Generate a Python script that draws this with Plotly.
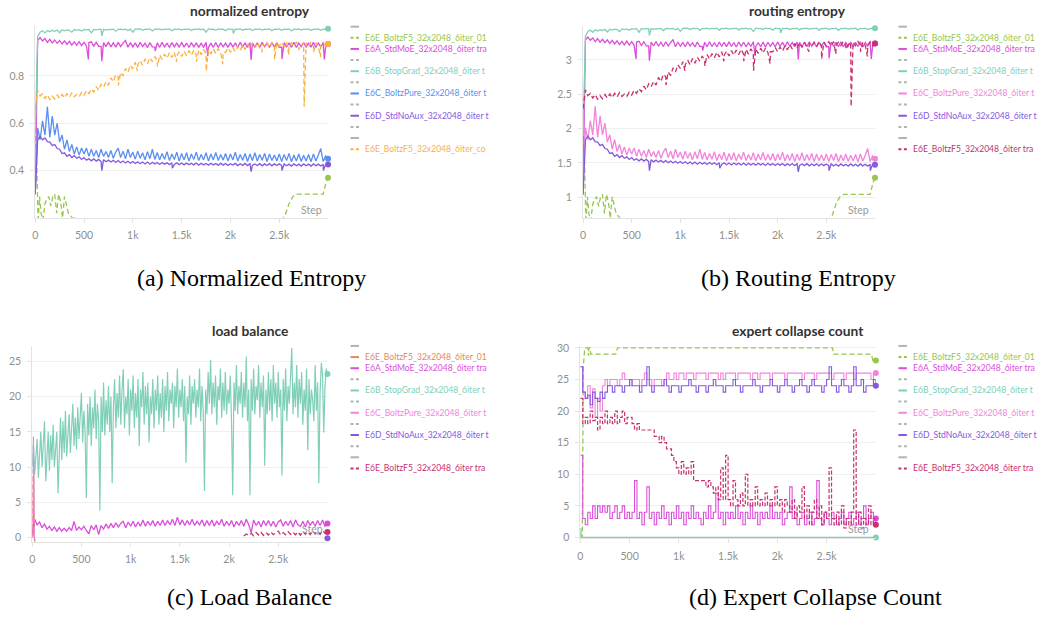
import math
import numpy as np
import plotly.graph_objects as go

W, H = 1039, 617

# ------------------------------------------------------------------ data
STEP_TICKS = [0, 500, 1000, 1500, 2000, 2500]
STEP_TICK_LABELS = ["0", "500", "1k", "1.5k", "2k", "2.5k"]
LAST_STEP = 3000

# (a) normalized entropy -- regular samples every 25 steps (0..3000) plus isolated dips
NE_TEAL = [0.55,
    0.965, 0.985, 0.991, 0.982, 0.992, 0.987, 0.993, 0.989, 0.994, 0.983,
    0.995, 0.991, 0.995, 0.993, 0.985, 0.996, 0.993, 0.996, 0.990, 0.997,
    0.995, 0.997, 0.982, 0.997, 0.995, 0.997, 0.997, 0.997, 0.994, 0.997,
    0.996, 0.998, 0.989, 0.997, 0.998, 0.996, 0.998, 0.992, 0.998, 0.985,
    0.998, 0.997, 0.999, 0.993, 0.998, 0.997, 0.999, 0.990, 0.998, 0.997,
    0.999, 0.995, 0.998, 0.997, 0.999, 0.991, 0.998, 0.997, 0.999, 0.994,
    0.998, 0.997, 0.999, 0.992, 0.998, 0.997, 0.999, 0.995, 0.998, 0.985,
    0.999, 0.997, 0.998, 0.993, 0.999, 0.997, 0.998, 0.991, 0.999, 0.997,
    0.998, 0.998, 0.997, 0.999, 0.993, 0.998, 0.997, 0.999, 0.992, 0.998,
    0.997, 0.999, 0.994, 0.998, 0.997, 0.999, 0.991, 0.998, 0.997, 0.999,
    0.993, 0.998, 0.997, 0.999, 0.990, 0.998, 0.997, 0.999, 0.994, 0.998,
    0.997, 0.999, 0.992, 0.998, 0.997, 0.999, 0.993, 0.998, 0.997, 0.999]
NE_TEAL_DIP_STEPS = [682, 2030]
NE_TEAL_DIPS = [0.969, 0.979]

NE_MAGENTA = [0.30,
    0.950, 0.962, 0.948, 0.958, 0.942, 0.955, 0.940, 0.952, 0.938, 0.950,
    0.935, 0.948, 0.933, 0.946, 0.930, 0.944, 0.929, 0.945, 0.928, 0.942,
    0.927, 0.941, 0.944, 0.926, 0.942, 0.925, 0.925, 0.941, 0.924, 0.943,
    0.923, 0.940, 0.922, 0.942, 0.924, 0.939, 0.950, 0.921, 0.941, 0.923,
    0.940, 0.921, 0.942, 0.924, 0.938, 0.920, 0.941, 0.923, 0.922, 0.940,
    0.921, 0.942, 0.922, 0.939, 0.920, 0.941, 0.923, 0.940, 0.921, 0.942,
    0.922, 0.939, 0.920, 0.941, 0.923, 0.940, 0.921, 0.938, 0.922, 0.942,
    0.921, 0.939, 0.921, 0.941, 0.920, 0.940, 0.923, 0.939, 0.921, 0.941,
    0.922, 0.940, 0.920, 0.942, 0.923, 0.939, 0.921, 0.941, 0.940, 0.922,
    0.940, 0.921, 0.942, 0.923, 0.939, 0.920, 0.941, 0.922, 0.940, 0.921,
    0.922, 0.941, 0.922, 0.940, 0.921, 0.942, 0.920, 0.939, 0.923, 0.941,
    0.921, 0.940, 0.922, 0.942, 0.920, 0.939, 0.923, 0.941, 0.922, 0.935]
NE_MAGENTA_DIP_STEPS = [545, 682, 1230, 1768, 2212, 2528, 2962]
NE_MAGENTA_DIPS = [0.870, 0.862, 0.905, 0.885, 0.868, 0.872, 0.870]

NE_BLUE = [0.30,
    0.58, 0.53, 0.61, 0.55, 0.67, 0.54, 0.63, 0.55, 0.60, 0.52,
    0.55, 0.49, 0.53, 0.48, 0.51, 0.47, 0.50, 0.465, 0.495, 0.47,
    0.495, 0.46, 0.49, 0.46, 0.485, 0.455, 0.49, 0.46, 0.48, 0.455,
    0.485, 0.452, 0.478, 0.495, 0.455, 0.482, 0.45, 0.49, 0.455, 0.478,
    0.448, 0.482, 0.452, 0.475, 0.445, 0.48, 0.45, 0.49, 0.447, 0.476,
    0.445, 0.472, 0.448, 0.48, 0.442, 0.47, 0.447, 0.478, 0.44, 0.472,
    0.445, 0.475, 0.44, 0.47, 0.447, 0.478, 0.442, 0.468, 0.445, 0.475,
    0.44, 0.47, 0.445, 0.476, 0.442, 0.468, 0.444, 0.472, 0.44, 0.47,
    0.445, 0.478, 0.44, 0.468, 0.443, 0.472, 0.438, 0.47, 0.442, 0.475,
    0.44, 0.468, 0.443, 0.472, 0.438, 0.47, 0.442, 0.466, 0.44, 0.47,
    0.438, 0.468, 0.442, 0.472, 0.437, 0.466, 0.44, 0.47, 0.438, 0.465,
    0.44, 0.468, 0.437, 0.47, 0.44, 0.465, 0.493, 0.438, 0.462, 0.45]

NE_PURPLE = [0.30,
    0.53, 0.545, 0.53, 0.538, 0.522, 0.52, 0.505, 0.51, 0.493, 0.49,
    0.472, 0.475, 0.46, 0.467, 0.455, 0.463, 0.452, 0.458, 0.447, 0.455,
    0.444, 0.45, 0.441, 0.449, 0.44, 0.447, 0.438, 0.446, 0.437, 0.444,
    0.436, 0.443, 0.434, 0.442, 0.433, 0.44, 0.432, 0.439, 0.431, 0.438,
    0.43, 0.437, 0.429, 0.436, 0.428, 0.436, 0.427, 0.435, 0.428, 0.434,
    0.426, 0.434, 0.427, 0.433, 0.425, 0.433, 0.426, 0.433, 0.425, 0.432,
    0.424, 0.432, 0.425, 0.431, 0.424, 0.432, 0.423, 0.431, 0.424, 0.43,
    0.423, 0.431, 0.424, 0.43, 0.422, 0.431, 0.423, 0.43, 0.422, 0.429,
    0.423, 0.43, 0.421, 0.429, 0.422, 0.43, 0.421, 0.429, 0.422, 0.428,
    0.421, 0.429, 0.42, 0.428, 0.421, 0.429, 0.42, 0.428, 0.421, 0.428,
    0.421, 0.428, 0.42, 0.427, 0.419, 0.428, 0.42, 0.427, 0.419, 0.428,
    0.42, 0.427, 0.419, 0.428, 0.42, 0.427, 0.419, 0.427, 0.426, 0.425]
NE_PURPLE_DIP_STEPS = [682, 1405, 2212, 2528, 2952]
NE_PURPLE_DIPS = [0.40, 0.41, 0.395, 0.40, 0.40]

NE_ORANGE = [0.66,
    0.74, 0.715, 0.725, 0.705, 0.72, 0.70, 0.715, 0.702, 0.72, 0.705,
    0.722, 0.707, 0.725, 0.71, 0.728, 0.712, 0.722, 0.712, 0.73, 0.718,
    0.738, 0.725, 0.745, 0.732, 0.755, 0.74, 0.765, 0.752, 0.775, 0.76,
    0.792, 0.775, 0.805, 0.795, 0.815, 0.80, 0.832, 0.815, 0.845, 0.83,
    0.858, 0.845, 0.865, 0.845, 0.872, 0.852, 0.877, 0.86, 0.882, 0.865,
    0.888, 0.87, 0.892, 0.875, 0.898, 0.878, 0.90, 0.884, 0.902, 0.882,
    0.905, 0.886, 0.907, 0.888, 0.91, 0.89, 0.91, 0.89, 0.912, 0.895,
    0.912, 0.893, 0.915, 0.895, 0.916, 0.897, 0.90, 0.90, 0.918, 0.90,
    0.92, 0.903, 0.925, 0.908, 0.93, 0.912, 0.935, 0.915, 0.938, 0.918,
    0.94, 0.92, 0.935, 0.925, 0.94, 0.922, 0.942, 0.925, 0.94, 0.925,
    0.942, 0.925, 0.943, 0.928, 0.94, 0.926, 0.943, 0.928, 0.93, 0.94,
    0.94, 0.925, 0.943, 0.928, 0.94, 0.927, 0.928, 0.942, 0.925, 0.935]
NE_ORANGE_DIP_STEPS = [852, 1047, 1252, 1448, 1652, 1752, 1922, 2322, 2452, 2598,
                       2702, 2755, 2852, 2922]
NE_ORANGE_DIPS = [0.76, 0.82, 0.84, 0.86, 0.86, 0.82, 0.85, 0.90, 0.87, 0.89,
                  0.91, 0.67, 0.90, 0.88]

NE_GREEN_STEPS = [0, 15, 30, 45, 60, 80, 100, 120, 140, 160, 180, 200, 220, 240, 260,
                  280, 300, 320, 340, 360, 380, 420, 460, 520, 2500, 2540, 2560, 2600,
                  2640, 2680, 2950, 2980, 3000]
NE_GREEN = [0.58, 0.45, 0.18, 0.29, 0.22, 0.19, 0.26, 0.28, 0.29, 0.25, 0.29, 0.30, 0.22,
            0.30, 0.27, 0.20, 0.29, 0.25, 0.22, 0.21, 0.20, 0.20, 0.19, 0.15, 0.15, 0.20,
            0.21, 0.26, 0.29, 0.30, 0.30, 0.35, 0.37]

# (b) routing entropy: same runs, in nats -> H = normalized * ln(32 experts)
N_EXPERTS = 32

# (c) load balance -- teal sampled every 12.5 steps, the others every 25 steps
LB_TEAL = [10.0,
    13.5, 9.0, 12.0, 14.0, 8.5, 11.5, 15.0, 10.0, 13.0, 16.5, 8.0, 12.5,
    15.0, 9.5, 14.5, 11.0, 16.0, 10.0, 13.5, 15.0, 6.3, 12.0, 17.0, 11.0,
    16.5, 12.0, 18.0, 11.5, 15.5, 17.5, 12.0, 16.0, 19.0, 13.0, 17.0, 12.5,
    18.5, 14.0, 17.0, 20.5, 13.5, 18.0, 15.0, 5.6, 19.0, 14.5, 20.0, 13.0,
    18.5, 15.5, 21.0, 14.0, 19.0, 16.5, 3.8, 20.0, 15.0, 22.0, 14.5, 19.5,
    16.0, 21.5, 15.0, 20.0, 7.7, 18.5, 22.5, 15.5, 20.5, 17.0, 23.0, 16.0,
    21.0, 23.9, 15.5, 20.0, 17.5, 22.5, 14.5, 21.0, 18.0, 23.0, 15.5, 20.5,
    17.0, 22.5, 13.0, 21.0, 18.5, 23.5, 16.0, 21.5, 17.5, 22.0, 13.5, 20.0,
    17.5, 22.5, 15.5, 21.0, 18.0, 23.0, 16.0, 20.5, 17.0, 22.5, 15.0, 21.5,
    18.0, 23.5, 16.5, 21.0, 19.0, 22.0, 15.5, 21.5, 18.5, 24.0, 17.0, 21.0,
    18.5, 22.5, 16.5, 21.5, 10.6, 20.0, 17.5, 23.0, 16.0, 21.5, 19.0, 22.5,
    17.0, 21.0, 18.5, 24.0, 16.5, 21.5, 18.0, 6.6, 21.0, 17.5, 23.5, 19.0,
    25.2, 17.5, 22.0, 18.5, 23.0, 16.0, 21.5, 19.5, 24.0, 17.0, 22.0, 18.0,
    23.5, 17.5, 21.0, 19.0, 23.0, 16.5, 6.0, 22.0, 18.0, 24.5, 17.5, 21.5,
    19.0, 23.5, 17.0, 22.0, 18.5, 25.7, 16.5, 21.0, 6.0, 22.5, 18.0, 24.0,
    17.5, 21.5, 19.5, 24.5, 17.0, 22.0, 18.5, 23.0, 10.2, 21.0, 17.5, 23.5,
    18.0, 22.5, 16.5, 24.5, 19.0, 22.0, 17.0, 23.5, 18.5, 21.0, 8.8, 22.5,
    18.0, 24.0, 16.5, 21.5, 19.0, 23.0, 26.9, 17.5, 22.0, 18.5, 24.5, 17.0,
    22.5, 19.0, 23.5, 16.0, 21.0, 18.0, 24.0, 12.4, 22.5, 17.5, 21.0, 19.5,
    16.5, 24.5, 18.0, 22.0, 7.7, 20.5, 24.8, 23.0, 14.9, 21.5, 24.0, 23.2]
LB_MAGENTA = [0.2,
    2.6, 1.8, 2.2, 1.4, 1.9, 1.2, 1.6, 1.0, 1.5, 0.9,
    1.4, 0.9, 1.3, 0.9, 1.4, 1.0, 2.3, 1.0, 1.5, 1.1,
    1.6, 1.0, 0.5, 1.7, 1.1, 1.8, 0.4, 1.7, 1.2, 1.9,
    1.3, 2.0, 1.4, 2.1, 1.5, 2.0, 2.3, 1.4, 2.2, 1.6,
    2.3, 1.5, 2.2, 1.6, 2.5, 1.6, 2.3, 1.7, 2.4, 1.6,
    2.3, 1.7, 2.5, 1.7, 2.4, 1.8, 2.6, 1.7, 2.9, 1.8,
    2.5, 1.7, 2.4, 1.8, 2.6, 1.7, 2.3, 1.8, 2.5, 1.6,
    2.4, 1.7, 2.5, 1.6, 2.3, 1.8, 2.6, 1.6, 2.3, 1.7,
    2.4, 1.5, 2.3, 1.7, 2.4, 1.6, 2.6, 1.8, 0.7, 2.5,
    1.7, 2.3, 1.5, 2.4, 1.7, 2.4, 1.6, 2.3, 1.5, 2.2,
    2.5, 1.6, 2.3, 1.7, 2.4, 1.5, 2.5, 1.8, 1.6, 2.3,
    1.5, 2.4, 1.7, 2.3, 1.6, 2.4, 1.7, 2.5, 1.6, 2.0]
LB_BROWN_STEPS = [5, 15, 20, 30]
LB_BROWN = [0.0, 11.2, 0.5, -1.0]
LB_CRIMSON_START_STEPS = [0, 12, 20, 25]
LB_CRIMSON_START = [0.0, 14.4, 0.3, -1.0]
LB_CRIMSON_LATE_FROM = 2150
LB_CRIMSON_LATE = [0.2, 0.5, 0.3, 0.6, 0.25, 0.7, 0.35, 0.75, 0.3, 0.7, 0.35, 0.8,
                   0.4, 0.65, 0.9, 0.35, 0.7, 0.4, 0.85, 0.45, 0.75, 0.4, 0.8, 0.35,
                   0.9, 0.45, 0.8, 0.4, 0.95, 0.5, 0.85, 0.45, 1.0, 0.6, 0.8]
LB_PURPLE_STEPS = [3000]
LB_PURPLE = [-0.1]

# (d) expert collapse count -- sampled every 25 steps (0..3000)
EC_PINK = [27,
    23, 22, 24, 20.5, 23.5, 19, 22, 20, 24, 25,
    24, 25, 25, 25, 24, 25, 26, 25, 25, 24,
    25, 25, 25, 24, 25, 26, 25, 25, 24, 25,
    25, 25, 24, 25, 26, 25, 25, 26, 25, 26,
    26, 25, 26, 26, 26, 25, 26, 26, 26, 26,
    25, 26, 26, 26, 26, 25, 26, 25, 26, 26,
    26, 26, 25, 26, 26, 26, 26, 26, 25, 26,
    26, 25, 26, 26, 26, 26, 25, 26, 26, 26,
    26, 26, 25, 26, 26, 26, 26, 26, 26, 25,
    26, 26, 26, 26, 25, 26, 26, 26, 26, 26,
    26, 25, 26, 26, 26, 26, 25, 26, 26, 26,
    25, 26, 26, 26, 26, 26, 26, 25, 26, 26]
EC_PURPLE = [27,
    23, 22, 22.5, 21, 23, 22, 21.5, 23, 22, 23,
    24, 24, 23, 24, 24, 24, 23, 24, 24, 25,
    24, 24, 24, 23, 24, 24, 27, 24, 23, 24,
    24, 24, 24, 25, 24, 23, 24, 24, 24, 23,
    24, 24, 24, 25, 24, 24, 23, 24, 24, 24,
    23, 24, 24, 25, 24, 24, 24, 23, 24, 24,
    24, 25, 24, 24, 23, 24, 24, 24, 24, 25,
    24, 24, 23, 24, 24, 24, 25, 24, 24, 23,
    24, 24, 25, 24, 24, 23, 24, 24, 25, 24,
    24, 23, 24, 25, 24, 24, 24, 23, 24, 25,
    27, 24, 24, 23, 24, 25, 24, 24, 23, 24,
    27, 24, 24, 25, 23, 24, 24, 24, 25, 24]
EC_CRIMSON = [22,
    18, 19, 18, 20, 18.5, 19, 17, 19, 18, 20,
    18, 19, 18, 20, 18, 19, 20, 18, 19, 19,
    18, 17, 18, 17, 17, 17, 17, 17, 17, 16,
    16, 15, 16, 15, 14, 14, 13, 12, 11, 10,
    12, 10, 11, 10, 12, 9, 9, 9, 9, 9,
    8, 9, 8, 7, 8, 6, 11, 6, 13, 6,
    5, 9, 6, 5, 7, 5, 10, 5, 6, 5,
    8, 5, 6, 5, 7, 5, 6, 5, 8, 5,
    6, 4, 6, 5, 4, 6, 3, 5, 4, 8,
    3, 5, 2, 4, 6, 3, 5, 2, 4, 3,
    11, 3, 2, 4, 2, 5, 1.5, 3, 2, 4,
    17, 2, 4, 1.5, 3, 2, 5, 2, 3, 2]
EC_MAGENTA = [13,
    3, 2, 4, 3, 5, 3, 5, 4, 5, 4,
    5, 3, 4, 5, 3, 4, 5, 3, 4, 3,
    4, 9, 3, 4, 2, 4, 8, 3, 4, 2,
    4, 3, 5, 3, 4, 2, 4, 3, 5, 3,
    4, 2, 4, 3, 5, 3, 4, 3, 2, 4,
    3, 5, 3, 4, 7, 3, 4, 2, 4, 3,
    4, 3, 5, 3, 4, 2, 4, 3, 5, 3,
    4, 2, 4, 3, 4, 3, 5, 3, 4, 3,
    4, 2, 3, 4, 8, 3, 4, 2, 3, 4,
    2, 3, 4, 2, 3, 9, 3, 2, 4, 3,
    2, 4, 3, 2, 3, 4, 2, 3, 4, 2,
    3, 4, 2, 3, 5, 2, 3, 4, 2, 3]
EC_GREEN_STEPS = [0, 20, 30, 45, 78, 80, 84, 86, 100, 105, 110, 360, 365, 380,
                  2560, 2565, 2570, 2955, 2970, 3000]
EC_GREEN = [0, 0, 27, 30, 30, 28.7, 28.7, 30, 30, 29, 29, 29, 29.5, 30,
            30, 29.5, 29, 29, 28, 28]
EC_TEAL_STEPS = [0, 5, 10, 3000]
EC_TEAL = [0, 1.5, 0, 0]

# legend labels (as shown, clipped by the panel)
LBL_E6E_01 = "E6E_BoltzF5_32x2048_6iter_01"
LBL_E6A = "E6A_StdMoE_32x2048_6iter tra"
LBL_E6B = "E6B_StopGrad_32x2048_6iter t"
LBL_E6C = "E6C_BoltzPure_32x2048_6iter t"
LBL_E6D = "E6D_StdNoAux_32x2048_6iter t"
LBL_E6E_CO = "E6E_BoltzF5_32x2048_6iter_co"
LBL_E6E_TRA = "E6E_BoltzF5_32x2048_6iter tra"

TITLES = ["normalized entropy", "routing entropy", "load balance", "expert collapse count"]
CAPTIONS = ["(a) Normalized Entropy", "(b) Routing Entropy", "(c) Load Balance",
            "(d) Expert Collapse Count"]

# ------------------------------------------------------------------ styles
GREEN = "#97c74c"
MAGENTA = "#db4edb"
TEAL = "#80cfb9"
BLUE = "#5a8ef0"
PURPLE = "#8658de"
ORANGE = "#fbb13f"
PINK = "#f383dc"
CRIMSON = "#c8306f"
BROWN = "#df8a5c"
GRAY = "#b3b3b3"

FONT = "Lato"
TICK_COLOR = "#8f8f8f"
DASH = "5px,3px"


def steps_for(vals, start=0, end=LAST_STEP):
    return list(np.linspace(start, end, len(vals)))


def with_dips(vals, dip_steps, dip_vals):
    pts = sorted(zip(steps_for(vals) + list(dip_steps), list(vals) + list(dip_vals)))
    return [p[0] for p in pts], [p[1] for p in pts]


def px_x(x):
    return x / W


def px_y(y):
    return 1 - y / H


fig = go.Figure()

PANELS = [
    dict(box=(32.3, 326.0, 22, 217), yr=[0.2, 1.0125], yt=[0.4, 0.6, 0.8], ytt=["0.4", "0.6", "0.8"]),
    dict(box=(581.7, 874.5, 22, 217), yr=[0.698, 3.499], yt=[1, 1.5, 2, 2.5, 3], ytt=["1", "1.5", "2", "2.5", "3"]),
    dict(box=(29.3, 325.4, 347, 545.7), yr=[-0.6, 27.2], yt=[0, 5, 10, 15, 20, 25], ytt=["0", "5", "10", "15", "20", "25"]),
    dict(box=(579.0, 875.4, 347, 542), yr=[-0.1, 30.3], yt=[0, 5, 10, 15, 20, 25, 30], ytt=["0", "5", "10", "15", "20", "25", "30"]),
]


def add_series(panel, x, y, color, dash=None, shape="linear", width=1.3, end_dot=True):
    xa = "x" if panel == 1 else f"x{panel}"
    ya = "y" if panel == 1 else f"y{panel}"
    x = list(x)
    y = list(y)
    fig.add_trace(go.Scatter(
        x=x, y=y, mode="lines", xaxis=xa, yaxis=ya, showlegend=False, hoverinfo="skip",
        line=dict(color=color, width=width, dash=dash, shape=shape)))
    if end_dot:
        fig.add_trace(go.Scatter(
            x=[x[-1]], y=[y[-1]], mode="markers", xaxis=xa, yaxis=ya, showlegend=False,
            hoverinfo="skip", marker=dict(color=color, size=6), cliponaxis=False))


teal_x, teal_y = with_dips(NE_TEAL, NE_TEAL_DIP_STEPS, NE_TEAL_DIPS)
mag_x, mag_y = with_dips(NE_MAGENTA, NE_MAGENTA_DIP_STEPS, NE_MAGENTA_DIPS)
pur_x, pur_y = with_dips(NE_PURPLE, NE_PURPLE_DIP_STEPS, NE_PURPLE_DIPS)
ora_x, ora_y = with_dips(NE_ORANGE, NE_ORANGE_DIP_STEPS, NE_ORANGE_DIPS)
blue_x, blue_y = steps_for(NE_BLUE), NE_BLUE

# (a)
add_series(1, NE_GREEN_STEPS, NE_GREEN, GREEN, dash=DASH)
add_series(1, mag_x, mag_y, MAGENTA)
add_series(1, teal_x, teal_y, TEAL)
add_series(1, blue_x, blue_y, BLUE)
add_series(1, pur_x, pur_y, PURPLE)
add_series(1, ora_x, ora_y, ORANGE, dash=DASH)

# (b)
K = math.log(N_EXPERTS)
add_series(2, NE_GREEN_STEPS, [v * K for v in NE_GREEN], GREEN, dash=DASH)
add_series(2, mag_x, [v * K for v in mag_y], MAGENTA)
add_series(2, teal_x, [v * K for v in teal_y], TEAL)
add_series(2, blue_x, [v * K for v in blue_y], PINK)
add_series(2, pur_x, [v * K for v in pur_y], PURPLE)
add_series(2, ora_x, [v * K for v in ora_y], CRIMSON, dash=DASH)

# (c)
add_series(3, LB_BROWN_STEPS, LB_BROWN, BROWN, end_dot=False)
add_series(3, steps_for(LB_MAGENTA), LB_MAGENTA, MAGENTA)
add_series(3, steps_for(LB_TEAL), LB_TEAL, TEAL, width=1.2)
add_series(3, LB_PURPLE_STEPS, LB_PURPLE, PURPLE)
add_series(3, LB_CRIMSON_START_STEPS, LB_CRIMSON_START, PINK, dash=DASH, end_dot=False)
add_series(3, steps_for(LB_CRIMSON_LATE, LB_CRIMSON_LATE_FROM), LB_CRIMSON_LATE, CRIMSON, dash=DASH)

# (d)
add_series(4, EC_GREEN_STEPS, EC_GREEN, GREEN, dash=DASH)
add_series(4, steps_for(EC_MAGENTA), EC_MAGENTA, MAGENTA, shape="hv", width=1.1)
add_series(4, EC_TEAL_STEPS, EC_TEAL, TEAL)
add_series(4, steps_for(EC_PINK), EC_PINK, PINK, shape="hv", width=1.1)
add_series(4, steps_for(EC_PURPLE), EC_PURPLE, PURPLE, shape="hv", width=1.1)
add_series(4, steps_for(EC_CRIMSON), EC_CRIMSON, CRIMSON, dash="4px,2px", shape="hv", width=1.2)

layout = dict(
    width=W, height=H, margin=dict(l=0, r=0, t=0, b=0),
    paper_bgcolor="white", plot_bgcolor="white", showlegend=False,
    font=dict(family=FONT, color=TICK_COLOR),
)
annotations = []
shapes = []
for i, p in enumerate(PANELS, start=1):
    l, r, t, b = p["box"]
    sfx = "" if i == 1 else str(i)
    layout["xaxis" + sfx] = dict(
        domain=[px_x(l), px_x(r)], anchor="y" + sfx, range=[0, LAST_STEP],
        tickvals=STEP_TICKS, ticktext=STEP_TICK_LABELS, showgrid=False, zeroline=False,
        showline=True, linecolor="#e3e3e3", linewidth=1, ticks="outside", ticklen=4,
        tickcolor="#e3e3e3", tickfont=dict(family=FONT, size=10.5, color=TICK_COLOR),
        ticklabelstandoff=4, fixedrange=True)
    layout["yaxis" + sfx] = dict(
        domain=[px_y(b), px_y(t)], anchor="x" + sfx, range=p["yr"],
        tickvals=p["yt"], ticktext=p["ytt"], showgrid=True, gridcolor="#efefef",
        gridwidth=1, zeroline=False, showline=True, linecolor="#e3e3e3", ticks="outside",
        ticklen=4, tickcolor="#e3e3e3", tickfont=dict(family=FONT, size=10.5, color=TICK_COLOR),
        ticklabelstandoff=4, fixedrange=True)

TITLE_POS = [(248, 7), (797, 7), (248, 331), (797, 331)]
CAPTION_POS = [(249, 278), (798, 278), (247, 602), (815, 602)]
STEP_POS = [(309, 209), (858, 209), (310, 533), (858, 533)]
for (tx, ty), title in zip(TITLE_POS, TITLES):
    annotations.append(dict(x=px_x(tx), y=px_y(ty), xref="paper", yref="paper", text=title,
                            showarrow=False, xanchor="center", yanchor="middle",
                            font=dict(family=FONT, size=13.8, color="#333333", weight="bold")))
for (cx, cy), cap in zip(CAPTION_POS, CAPTIONS):
    annotations.append(dict(x=px_x(cx), y=px_y(cy), xref="paper", yref="paper", text=cap,
                            showarrow=False, xanchor="center", yanchor="middle",
                            font=dict(family="Liberation Serif", size=24, color="#000000")))
for sx, sy in STEP_POS:
    annotations.append(dict(x=px_x(sx), y=px_y(sy), xref="paper", yref="paper", text="Step",
                            showarrow=False, xanchor="center", yanchor="middle",
                            font=dict(family=FONT, size=10.5, color="#9a9a9a")))

LEGENDS = [
    [("", GRAY, "solid"), (LBL_E6E_01, GREEN, "dash"), (LBL_E6A, MAGENTA, "solid"),
     ("", GRAY, "dash"), (LBL_E6B, TEAL, "solid"), ("", GRAY, "dash"),
     (LBL_E6C, BLUE, "solid"), ("", GRAY, "dash"), (LBL_E6D, PURPLE, "solid"),
     ("", GRAY, "dash"), ("", GRAY, "solid"), (LBL_E6E_CO, ORANGE, "dash")],
    [("", GRAY, "solid"), (LBL_E6E_01, GREEN, "dash"), (LBL_E6A, MAGENTA, "solid"),
     ("", GRAY, "dash"), (LBL_E6B, TEAL, "solid"), ("", GRAY, "dash"),
     (LBL_E6C, PINK, "solid"), ("", GRAY, "dash"), (LBL_E6D, PURPLE, "solid"),
     ("", GRAY, "dash"), ("", GRAY, "solid"), (LBL_E6E_TRA, CRIMSON, "dash")],
    [("", GRAY, "solid"), (LBL_E6E_01, BROWN, "solid"), (LBL_E6A, MAGENTA, "solid"),
     ("", GRAY, "dash"), (LBL_E6B, TEAL, "solid"), ("", GRAY, "dash"),
     (LBL_E6C, PINK, "solid"), ("", GRAY, "dash"), (LBL_E6D, PURPLE, "solid"),
     ("", GRAY, "dash"), ("", GRAY, "solid"), (LBL_E6E_TRA, CRIMSON, "dash")],
    [("", GRAY, "solid"), (LBL_E6E_01, GREEN, "dash"), (LBL_E6A, MAGENTA, "solid"),
     ("", GRAY, "dash"), (LBL_E6B, TEAL, "solid"), ("", GRAY, "dash"),
     (LBL_E6C, PINK, "solid"), ("", GRAY, "dash"), (LBL_E6D, PURPLE, "solid"),
     ("", GRAY, "dash"), ("", GRAY, "solid"), (LBL_E6E_TRA, CRIMSON, "dash")],
]
LEGEND_ORIGIN = [(348.5, 23.0), (898.0, 23.0), (348.5, 347.0), (898.0, 347.0)]
ROW_GAP = 11.3
for (lx, ly), rows in zip(LEGEND_ORIGIN, LEGENDS):
    for k, (label, color, dash) in enumerate(rows):
        y = ly + k * ROW_GAP
        shapes.append(dict(type="line", xref="paper", yref="paper",
                           x0=px_x(lx), x1=px_x(lx + 8.5), y0=px_y(y), y1=px_y(y),
                           line=dict(color=color, width=2,
                                     dash="3px,2.5px" if dash == "dash" else "solid")))
        if label:
            annotations.append(dict(x=px_x(lx + 13), y=px_y(y), xref="paper", yref="paper",
                                    text=label, showarrow=False, xanchor="left",
                                    yanchor="middle",
                                    font=dict(family=FONT, size=8.6, color=color)))

layout["annotations"] = annotations
layout["shapes"] = shapes
fig.update_layout(**layout)

PAGE_FIX = ("document.documentElement.style.margin='0';document.body.style.margin='0';"
            "document.body.style.padding='0';document.body.style.overflow='hidden';"
            "document.documentElement.style.overflow='hidden';")
fig.write_html("out.html", config={"displayModeBar": False}, post_script=PAGE_FIX)
